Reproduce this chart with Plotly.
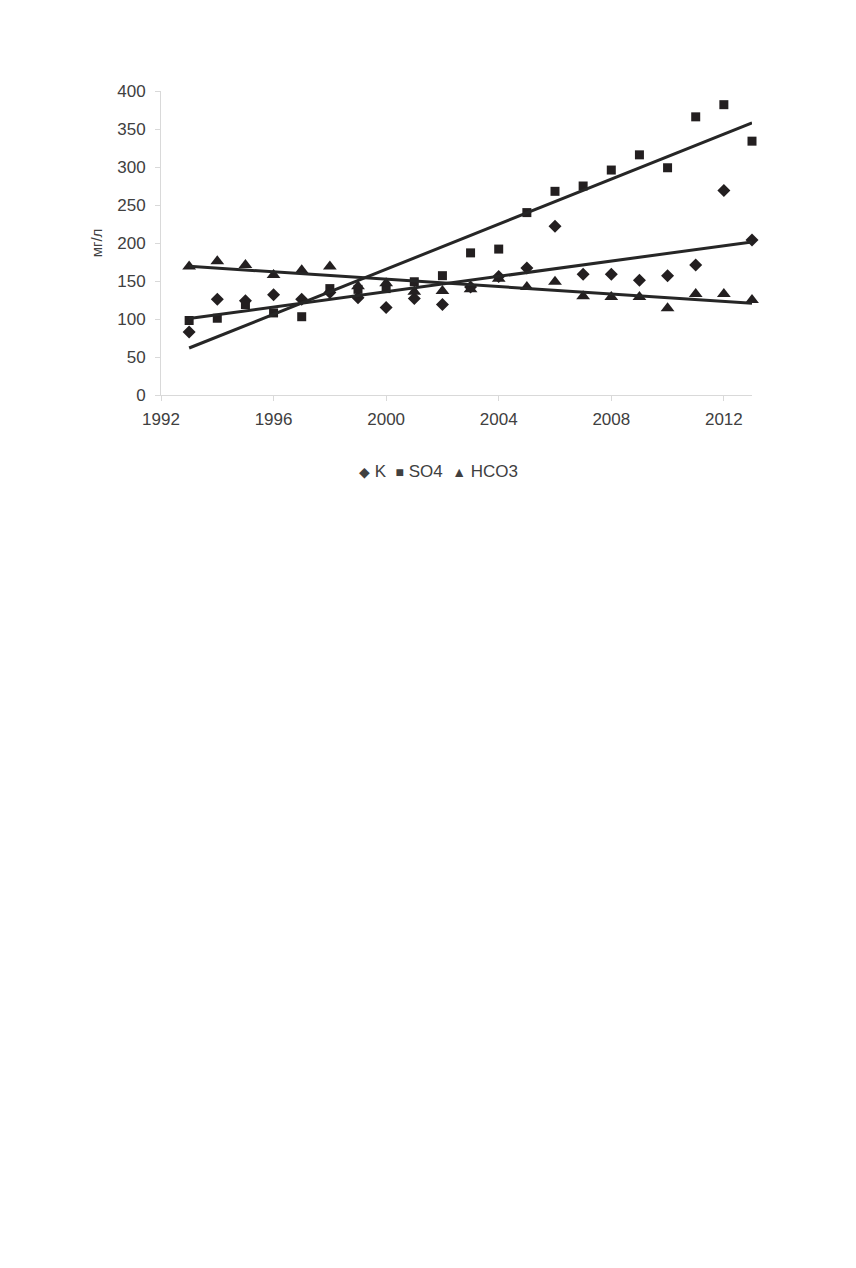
import numpy as np
import plotly.graph_objects as go

years = list(range(1993, 2014))

k_vals = [83, 126, 124, 132, 126, 135, 128, 115, 127, 119, 142,
          156, 167, 222, 159, 159, 151, 157, 171, 269, 204]
so4_vals = [98, 101, 119, 108, 103, 140, 139, 140, 149, 157, 187,
            192, 240, 268, 275, 296, 316, 299, 366, 382, 334]
hco3_vals = [169, 176, 171, 158, 164, 169, 143, 147, 136, 137, 139,
             153, 142, 149, 130, 129, 129, 114, 133, 133, 125]

x_ticks = [1992, 1996, 2000, 2004, 2008, 2012]
y_ticks = [0, 50, 100, 150, 200, 250, 300, 350, 400]

ink = '#231f20'
txt = '#404040'
font = 'Arial, Liberation Sans, sans-serif'

fig = go.Figure()

series = [('K', k_vals, 'diamond', 10),
          ('SO4', so4_vals, 'square', 9),
          ('HCO3', hco3_vals, 'triangle-up', 12)]

for name, vals, sym, size in series:
    fig.add_trace(go.Scatter(
        x=years, y=vals, mode='markers', name=name,
        marker=dict(symbol=sym, size=size, color=ink),
        showlegend=False, cliponaxis=False))

# linear trend lines, like the excel ones
for name, vals, sym, size in series:
    slope, icpt = np.polyfit(years, vals, 1)
    fig.add_trace(go.Scatter(
        x=[years[0], years[-1]],
        y=[slope * years[0] + icpt, slope * years[-1] + icpt],
        mode='lines', line=dict(color='#262626', width=3),
        showlegend=False, hoverinfo='skip', cliponaxis=False))

axis_style = dict(showline=True, linecolor='#d9d9d9', linewidth=1,
                  ticks='outside', tickcolor='#d9d9d9', ticklen=5,
                  showgrid=False, zeroline=False,
                  tickfont=dict(family=font, size=17, color=txt))

fig.update_xaxes(range=[1992, 2013], tickvals=x_ticks,
                 ticklabelstandoff=4, **axis_style)
fig.update_yaxes(range=[0, 400], tickvals=y_ticks, ticklabelstandoff=6,
                 title=dict(text='мг/л', standoff=10,
                            font=dict(family=font, size=15, color=txt)),
                 **axis_style)

# legend written as a text line, the symbols smaller than the names
sym_span = '<span style="font-size:14px">%s</span>'
legend_txt = '&nbsp;&nbsp;'.join(
    sym_span % s + '&nbsp;' + n for s, n in
    [('\u25c6', 'K'), ('\u25a0', 'SO4'), ('\u25b2', 'HCO3')])
fig.add_annotation(text=legend_txt, xref='paper', yref='paper',
                   x=0.47, y=-0.253, xanchor='center', yanchor='middle',
                   showarrow=False,
                   font=dict(family=font, size=17, color=txt))

fig.update_layout(
    width=856, height=1268,
    margin=dict(l=153, r=112, t=83, b=881),
    paper_bgcolor='white', plot_bgcolor='white',
)

fig.write_html("out.html")
